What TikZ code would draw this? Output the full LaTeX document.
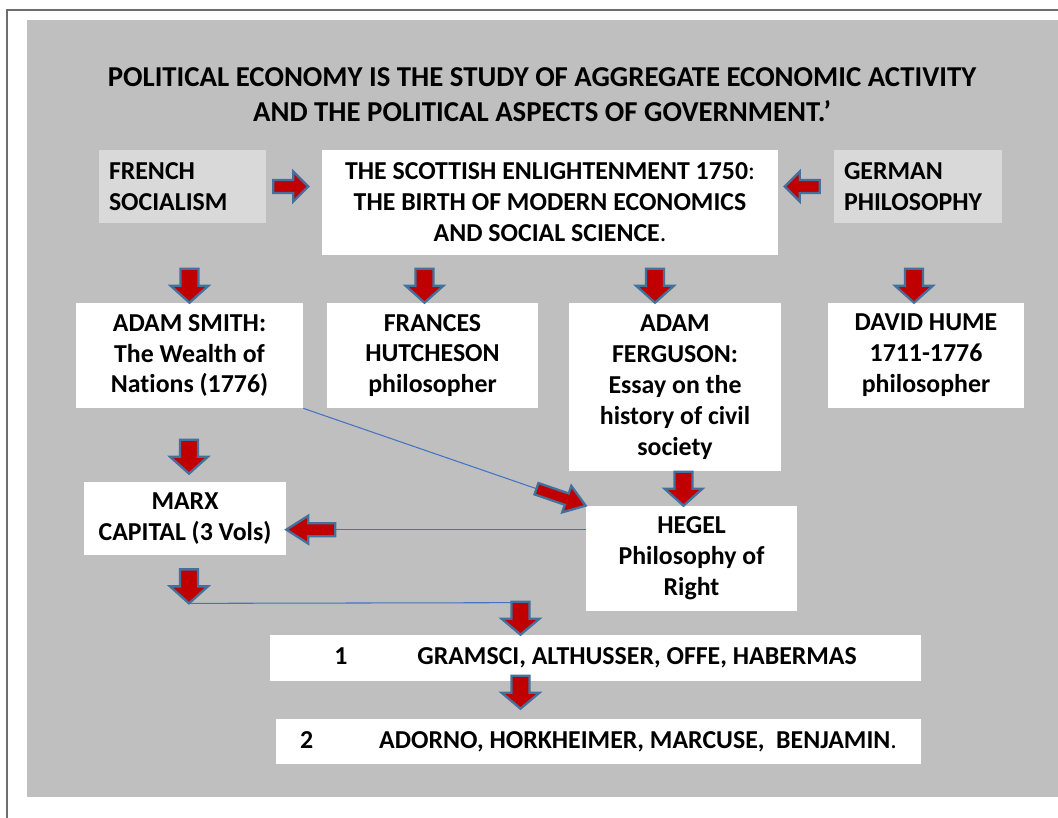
\documentclass[tikz,border=0pt]{standalone}
\usepackage{fontspec}
\setmainfont{Carlito}[Ligatures=CommonOff]
\usepackage{tikz}
\usetikzlibrary{positioning}

\newlength{\px}
\setlength{\px}{0.02cm}

\definecolor{panelgray}{HTML}{BFBFBF}
\definecolor{lightbox}{HTML}{D9D9D9}
\definecolor{arrowred}{HTML}{C00000}
\definecolor{arrowedge}{HTML}{41719C}
\definecolor{linkblue}{HTML}{4472C4}
\definecolor{framegray}{HTML}{6E6E6E}

\tikzset{
  box/.style={fill=white, inner sep=0pt, align=flush center, font=\bfseries\fontsize{14.7}{17.6}\selectfont},
  sidebox/.style={box, fill=lightbox, align=flush left, inner xsep=10\px},
  link/.style={draw=linkblue, line width=0.6pt},
  redarrow/.style={fill=arrowred, draw=arrowedge, line width=1.3pt, line join=miter}
}

% block arrow: tip, angle, length, head length, shaft half width, head half width
\newcommand{\barrow}[6]{%
  \filldraw[redarrow, shift={#1}, rotate=#2] (0,0) -- (#6,-#4) -- (#5,-#4) -- (#5,-#3) -- (-#5,-#3) -- (-#5,-#4) -- (-#6,-#4) -- cycle;}

\begin{document}
\begin{tikzpicture}[x=0.02cm, y=-0.02cm]
    \useasboundingbox (0,0) rectangle (1058,818);

    % Frame and panel
    \draw[framegray, line width=1.2pt] (7,818) -- (7,10) -- (1058,10);
    \fill[panelgray] (27,20) rectangle (1058,797);

    % Title
    \node (title) at (542,94.5) [align=flush center, font=\bfseries\fontsize{16.4}{19.9}\selectfont]
      {POLITICAL ECONOMY IS THE STUDY OF AGGREGATE ECONOMIC ACTIVITY\\ AND THE POLITICAL ASPECTS OF GOVERNMENT.’};

    % Top row
    \node[sidebox, text width=147\px, minimum height=73\px] (french) at (182.5,186.5) {FRENCH\\ SOCIALISM};
    \node[box, text width=456\px, minimum height=105\px] (scot) at (550,202.5)
      {THE SCOTTISH ENLIGHTENMENT 1750{\mdseries :}\\ THE BIRTH OF MODERN ECONOMICS\\ AND SOCIAL SCIENCE{\mdseries .}};
    \node[sidebox, text width=148\px, minimum height=73\px] (german) at (918,186.5) {GERMAN\\ PHILOSOPHY};

    % Second row
    \node[box, text width=227\px, minimum height=105\px] (smith) at (189.5,355.5) {ADAM SMITH:\\ The Wealth of\\ Nations (1776)};
    \node[box, text width=211\px, minimum height=105\px] (hutch) at (432.5,355.5) {FRANCES\\ HUTCHESON\\ philosopher};
    \node[box, text width=212\px, minimum height=168\px] (ferg) at (675,387) {ADAM\\ FERGUSON:\\ Essay on the\\ history of civil\\ society};
    \node[box, text width=196\px, minimum height=105\px] (hume) at (926,355.5) {DAVID HUME\\ 1711-1776\\ philosopher};

    % Marx and Hegel
    \node[box, text width=202\px, minimum height=73\px] (marx) at (185,518.5) {MARX\\ CAPITAL (3 Vols)};
    \node[box, text width=211\px, minimum height=105\px] (hegel) at (691.5,558.5) {HEGEL\\ Philosophy of\\ Right};

    % Bottom rows
    \node[box, text width=651\px, minimum height=46\px] (gramsci) at (595.5,658)
      {1\hspace{70\px}GRAMSCI, ALTHUSSER, OFFE, HABERMAS};
    \node[box, text width=645\px, minimum height=45\px] (adorno) at (598.5,741.5)
      {2\hspace{66\px}ADORNO, HORKHEIMER, MARCUSE,\ \ BENJAMIN{\mdseries .}};

    % Thin links
    \draw[link] (smith.south east) -- (hegel.north west);
    \draw[link] ([yshift=-24\px]hegel.north west) -- ([yshift=-48\px]marx.north east);
    \draw[link] ([xshift=4\px,yshift=-48\px]marx.south) -- ([xshift=-75\px,yshift=32\px]gramsci.north);

    % Block arrows
    \barrow{([xshift=42\px]french.east)}{90}{35}{15}{6.5}{15}
    \barrow{([xshift=-49\px]german.west)}{-90}{35}{15}{6.5}{15}
    \foreach \n/\s in {smith/0, hutch/-8, ferg/-20, hume/-12} {
      \barrow{([xshift=\s\px]\n.north)}{0}{34}{17}{9}{19}
    }
    \barrow{([xshift=4\px,yshift=8\px]marx.north)}{0}{34}{17}{9}{19}
    \barrow{([xshift=-8\px]hegel.north)}{0}{34}{17}{9}{19}
    \barrow{(hegel.north west)}{71}{52}{20}{6}{14}
    \barrow{([yshift=-48\px]marx.north east)}{-90}{49}{22}{6.5}{14}
    \barrow{([xshift=4\px,yshift=-48\px]marx.south)}{0}{34}{17}{9}{19}
    \barrow{([xshift=-75\px]gramsci.north)}{0}{33}{16}{9}{19}
    \barrow{([xshift=-78\px,yshift=10\px]adorno.north)}{0}{33}{16}{9}{19}

\end{tikzpicture}
\end{document}
